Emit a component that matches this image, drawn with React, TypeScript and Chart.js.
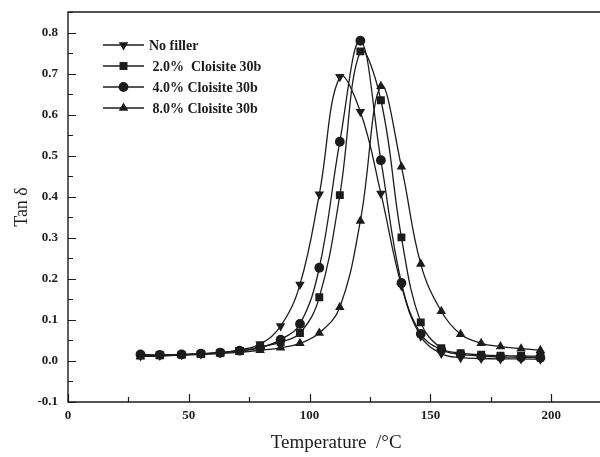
import React, { useEffect, useRef } from 'react';
import { Chart, registerables } from 'chart.js';
import { drawPoint } from 'chart.js/helpers';

Chart.register(...registerables);

// ---- data ----
const temperatures = [30, 38, 47, 55, 63, 71, 79.5, 88, 96, 104, 112.5, 121, 129.5, 138, 146, 154.5, 162.5, 171, 179, 187.5, 195.5];
const noFiller = [0.012, 0.013, 0.015, 0.017, 0.020, 0.027, 0.041, 0.085, 0.186, 0.406, 0.692, 0.607, 0.408, 0.183, 0.060, 0.018, 0.008, 0.006, 0.005, 0.005, 0.004];
const cloisite2 = [0.013, 0.014, 0.015, 0.017, 0.020, 0.024, 0.034, 0.046, 0.068, 0.155, 0.404, 0.754, 0.635, 0.301, 0.094, 0.031, 0.019, 0.015, 0.013, 0.012, 0.012];
const cloisite4 = [0.016, 0.015, 0.016, 0.018, 0.020, 0.025, 0.032, 0.052, 0.090, 0.227, 0.534, 0.780, 0.489, 0.190, 0.066, 0.027, 0.016, 0.012, 0.010, 0.009, 0.008];
const cloisite8 = [0.011, 0.012, 0.014, 0.016, 0.018, 0.021, 0.026, 0.032, 0.043, 0.068, 0.131, 0.341, 0.669, 0.473, 0.236, 0.121, 0.065, 0.043, 0.035, 0.030, 0.026];
const seriesLabels = ['No filler', ' 2.0%  Cloisite 30b', ' 4.0% Cloisite 30b', ' 8.0% Cloisite 30b'];
const xTickValues = [0, 50, 100, 150, 200];
const yTickValues = [-0.1, 0.0, 0.1, 0.2, 0.3, 0.4, 0.5, 0.6, 0.7, 0.8];
const xAxisTitle = 'Temperature  /°C';
const yAxisTitle = 'Tan δ';

// ---- styles ----
const ink = '#1c1c1c';
const serif = "'Liberation Serif', 'Times New Roman', serif";
const seriesValues = [noFiller, cloisite2, cloisite4, cloisite8];
const pointStyles = ['triangle', 'rect', 'circle', 'triangle'];
const pointRotations = [180, 0, 0, 0];
const pointRadii = [5.5, 5.6, 4.9, 5.5];

const framePlugin = {
  id: 'frameTicks',
  afterDraw(chart: any) {
    const { ctx, chartArea: a, scales } = chart;
    const x = scales.x;
    const y = scales.y;
    ctx.save();
    ctx.strokeStyle = ink;
    ctx.lineWidth = 1.4;
    ctx.beginPath();
    ctx.moveTo(a.right + 2, a.bottom);
    ctx.lineTo(a.left, a.bottom);
    ctx.lineTo(a.left, a.top);
    ctx.lineTo(a.right + 2, a.top);
    ctx.stroke();
    ctx.lineWidth = 1.2;
    ctx.beginPath();
    // x ticks (major + minor halfway), pointing inward
    const xStep = xTickValues[1] - xTickValues[0];
    for (let v = xTickValues[0]; v <= x.max; v += xStep / 2) {
      const px = Math.round(x.getPixelForValue(v)) + 0.5;
      const major = Math.abs(v / xStep - Math.round(v / xStep)) < 1e-6;
      ctx.moveTo(px, a.bottom);
      ctx.lineTo(px, a.bottom - (major ? 8 : 5));
    }
    const yStep = yTickValues[1] - yTickValues[0];
    for (let i = 0; ; i++) {
      const v = yTickValues[0] + (i * yStep) / 2;
      if (v > y.max + 1e-9) break;
      const py = Math.round(y.getPixelForValue(v)) + 0.5;
      const major = i % 2 === 0;
      ctx.moveTo(a.left, py);
      ctx.lineTo(a.left + (major ? 8 : 5), py);
    }
    ctx.stroke();
    ctx.restore();
  },
};

const legendPlugin = {
  id: 'insideLegend',
  afterDraw(chart: any) {
    const { ctx, chartArea: a } = chart;
    ctx.save();
    const rowTop = a.top + 33;
    const rowGap = 21;
    chart.data.datasets.forEach((ds: any, i: number) => {
      const cy = rowTop + i * rowGap;
      const x0 = a.left + 35;
      const x1 = a.left + 76;
      ctx.strokeStyle = ink;
      ctx.lineWidth = 1.3;
      ctx.beginPath();
      ctx.moveTo(x0, cy);
      ctx.lineTo(x1, cy);
      ctx.stroke();
      ctx.fillStyle = ink;
      drawPoint(ctx, { pointStyle: ds.pointStyle, rotation: ds.pointRotation, radius: ds.pointRadius, borderWidth: 0 } as any, (x0 + x1) / 2, cy);
      ctx.fillStyle = ink;
      ctx.font = `bold 14px ${serif}`;
      ctx.textBaseline = 'middle';
      ctx.textAlign = 'left';
      ctx.fillText(ds.label, a.left + 81, cy + 1);
    });
    ctx.restore();
  },
};

export default function App() {
  const ref = useRef<HTMLCanvasElement>(null);
  useEffect(() => {
    const datasets = seriesValues.map((vals, i) => ({
      label: seriesLabels[i],
      data: temperatures.map((t, j) => ({ x: t, y: vals[j] })),
      borderColor: ink,
      backgroundColor: ink,
      borderWidth: 1.3,
      pointStyle: pointStyles[i],
      pointRotation: pointRotations[i],
      pointRadius: pointRadii[i],
      pointBorderWidth: 0,
      pointBackgroundColor: ink,
      tension: 0.4,
      fill: false,
    }));
    const chart = new Chart(ref.current as HTMLCanvasElement, {
      type: 'line',
      data: { datasets },
      options: {
        animation: false,
        responsive: false,
        devicePixelRatio: 1,
        layout: { padding: { top: 12, left: 0, right: 0, bottom: 0 } },
        plugins: { legend: { display: false }, tooltip: { enabled: false } },
        scales: {
          x: {
            type: 'linear',
            min: 0,
            max: 222,
            afterBuildTicks: (s: any) => {
              s.ticks = xTickValues.map((v) => ({ value: v }));
            },
            afterFit: (s: any) => {
              s.height = 55;
              s.paddingLeft = 0;
              s.paddingRight = 0;
            },
            ticks: {
              color: ink,
              font: { family: serif, size: 13, weight: 'bold' },
              padding: 6,
              maxRotation: 0,
              autoSkip: false,
              callback: (v: any) => String(v),
            },
            grid: { display: false, drawTicks: false },
            border: { display: false },
            title: {
              display: true,
              text: xAxisTitle,
              color: ink,
              font: { family: serif, size: 19, weight: 'normal' },
              padding: { top: 0, bottom: 3 },
            },
          },
          y: {
            type: 'linear',
            min: -0.1,
            max: 0.85,
            afterBuildTicks: (s: any) => {
              s.ticks = yTickValues.map((v) => ({ value: v }));
            },
            afterFit: (s: any) => {
              s.width = 68;
              s.paddingTop = 0;
              s.paddingBottom = 0;
            },
            ticks: {
              color: ink,
              font: { family: serif, size: 13, weight: 'bold' },
              padding: 10,
              autoSkip: false,
              callback: (v: any) => Number(v).toFixed(1),
            },
            grid: { display: false, drawTicks: false },
            border: { display: false },
            title: {
              display: true,
              text: yAxisTitle,
              color: ink,
              font: { family: serif, size: 18, weight: 'normal' },
              padding: { top: 11, bottom: 0 },
            },
          },
        },
      },
      plugins: [framePlugin, legendPlugin],
    } as any);
    return () => chart.destroy();
  }, []);
  return (
    <div style={{ position: 'absolute', left: 0, top: 0, width: 600, height: 457, overflow: 'hidden', background: '#fff' }}>
      <canvas ref={ref} width={610} height={457} style={{ display: 'block', width: 610, height: 457 }} />
    </div>
  );
}
